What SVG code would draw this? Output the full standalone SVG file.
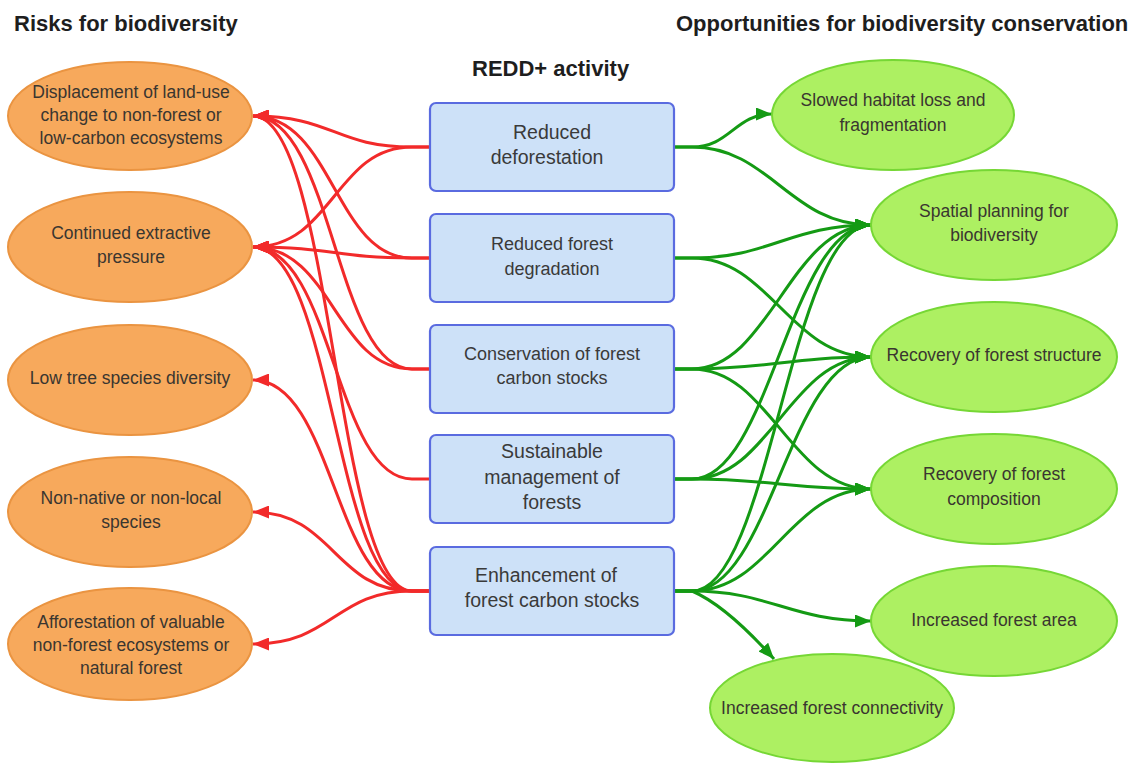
<svg xmlns="http://www.w3.org/2000/svg" width="1134" height="764" viewBox="0 0 1134 764">
<defs>
<style>
.title{font-family:"Liberation Sans",Arial,sans-serif;font-weight:bold;font-size:22px;fill:#1e1e1e}
.risk ellipse{fill:#f7a95c;stroke:#ea9441;stroke-width:2}
.opp ellipse{fill:#adf062;stroke:#76d735;stroke-width:2}
.act rect{fill:#cde1f8;stroke:#5a6be0;stroke-width:2.2}
.lbl{font-family:"Liberation Sans",Arial,sans-serif;font-size:17.5px;fill:#3a3630;text-anchor:middle}
.blbl{font-family:"Liberation Sans",Arial,sans-serif;font-size:18px;fill:#3a3a3a;text-anchor:middle}
.big{font-size:19.5px}
.red{fill:none;stroke:#f22a2a;stroke-width:3;marker-end:url(#ar)}
.grn{fill:none;stroke:#149a14;stroke-width:3;marker-end:url(#ag)}
</style>
<marker id="ar" markerUnits="userSpaceOnUse" markerWidth="17" markerHeight="13" refX="16" refY="6.5" orient="auto">
<path d="M0,0 L16,6.5 L0,13 z" fill="#f22a2a"/>
</marker>
<marker id="ag" markerUnits="userSpaceOnUse" markerWidth="17" markerHeight="13" refX="16" refY="6.5" orient="auto">
<path d="M0,0 L16,6.5 L0,13 z" fill="#149a14"/>
</marker>
</defs>
<rect width="1134" height="764" fill="#ffffff"/>

<text class="title" x="14" y="31">Risks for biodiversity</text>
<text class="title" x="472" y="76">REDD+ activity</text>
<text class="title" x="676" y="31">Opportunities for biodiversity conservation</text>

<g id="connectors">
<path class="red" d="M430,147 L412,147 C335,147 333,116 253,116"/>
<path class="red" d="M430,147 L412,147 C335,147 333,247 253,247"/>
<path class="red" d="M430,258 L412,258 C335,258 333,116 253,116"/>
<path class="red" d="M430,258 L412,258 C335,258 333,247 253,247"/>
<path class="red" d="M430,369 L412,369 C335,369 333,116 253,116"/>
<path class="red" d="M430,369 L412,369 C335,369 333,247 253,247"/>
<path class="red" d="M430,479 L412,479 C335,479 333,247 253,247"/>
<path class="red" d="M430,591 L412,591 C335,591 333,116 253,116"/>
<path class="red" d="M430,591 L412,591 C335,591 333,247 253,247"/>
<path class="red" d="M430,591 L412,591 C335,591 333,380 253,380"/>
<path class="red" d="M430,591 L412,591 C335,591 333,512 253,512"/>
<path class="red" d="M430,591 L412,591 C335,591 333,644 253,644"/>

<path class="grn" d="M674,147 L692,147 C730,147 735,114 772,114"/>
<path class="grn" d="M674,147 L692,147 C770,147 790,225 871,225"/>
<path class="grn" d="M674,258 L692,258 C770,258 790,225 871,225"/>
<path class="grn" d="M674,258 L692,258 C770,258 790,357 871,357"/>
<path class="grn" d="M674,369 L692,369 C770,369 790,225 871,225"/>
<path class="grn" d="M674,369 L692,369 C770,369 790,357 871,357"/>
<path class="grn" d="M674,369 L692,369 C770,369 790,489 871,489"/>
<path class="grn" d="M674,479 L692,479 C770,479 790,225 871,225"/>
<path class="grn" d="M674,479 L692,479 C770,479 790,357 871,357"/>
<path class="grn" d="M674,479 L692,479 C770,479 790,489 871,489"/>
<path class="grn" d="M674,591 L692,591 C770,591 790,225 871,225"/>
<path class="grn" d="M674,591 L692,591 C770,591 790,357 871,357"/>
<path class="grn" d="M674,591 L692,591 C770,591 790,489 871,489"/>
<path class="grn" d="M674,591 L692,591 C770,591 790,621 871,621"/>
<path class="grn" d="M674,591 L692,591 C720,603 748,630 774,659"/>
</g>

<g id="risk-displacement" class="risk">
<ellipse cx="130" cy="116" rx="122" ry="54"/>
<text class="lbl" x="131" y="98">Displacement of land-use</text>
<text class="lbl" x="131" y="121">change to non-forest or</text>
<text class="lbl" x="131" y="144">low-carbon ecosystems</text>
</g>
<g id="risk-extractive" class="risk">
<ellipse cx="130" cy="247" rx="122" ry="55"/>
<text class="lbl" x="131" y="239">Continued extractive</text>
<text class="lbl" x="131" y="263">pressure</text>
</g>
<g id="risk-lowdiversity" class="risk">
<ellipse cx="130" cy="380" rx="122" ry="55"/>
<text class="lbl" x="130" y="384">Low tree species diversity</text>
</g>
<g id="risk-nonnative" class="risk">
<ellipse cx="130" cy="512" rx="122" ry="55"/>
<text class="lbl" x="131" y="504">Non-native or non-local</text>
<text class="lbl" x="131" y="528">species</text>
</g>
<g id="risk-afforestation" class="risk">
<ellipse cx="130" cy="644" rx="122" ry="56"/>
<text class="lbl" x="131" y="628">Afforestation of valuable</text>
<text class="lbl" x="131" y="651">non-forest ecosystems or</text>
<text class="lbl" x="131" y="674">natural forest</text>
</g>

<g id="act-deforestation" class="act">
<rect x="430" y="103" width="244" height="88" rx="6"/>
<text class="blbl big" x="552" y="139">Reduced</text>
<text class="blbl big" x="547" y="164">deforestation</text>
</g>
<g id="act-degradation" class="act">
<rect x="430" y="214" width="244" height="88" rx="6"/>
<text class="blbl" x="552" y="250">Reduced forest</text>
<text class="blbl" x="552" y="275">degradation</text>
</g>
<g id="act-conservation" class="act">
<rect x="430" y="325" width="244" height="88" rx="6"/>
<text class="blbl" x="552" y="360">Conservation of forest</text>
<text class="blbl" x="552" y="384">carbon stocks</text>
</g>
<g id="act-sustainable" class="act">
<rect x="430" y="435" width="244" height="88" rx="6"/>
<text class="blbl big" x="552" y="458">Sustainable</text>
<text class="blbl big" x="552" y="484">management of</text>
<text class="blbl big" x="552" y="509">forests</text>
</g>
<g id="act-enhancement" class="act">
<rect x="430" y="547" width="244" height="88" rx="6"/>
<text class="blbl big" x="546" y="582">Enhancement of</text>
<text class="blbl big" x="552" y="607">forest carbon stocks</text>
</g>

<g id="opp-habitat" class="opp">
<ellipse cx="893" cy="115" rx="121" ry="55"/>
<text class="lbl" x="893" y="106">Slowed habitat loss and</text>
<text class="lbl" x="893" y="131">fragmentation</text>
</g>
<g id="opp-spatial" class="opp">
<ellipse cx="994" cy="225" rx="123" ry="55"/>
<text class="lbl" x="994" y="217">Spatial planning for</text>
<text class="lbl" x="994" y="241">biodiversity</text>
</g>
<g id="opp-structure" class="opp">
<ellipse cx="994" cy="357" rx="123" ry="55"/>
<text class="lbl" x="994" y="361">Recovery of forest structure</text>
</g>
<g id="opp-composition" class="opp">
<ellipse cx="994" cy="489" rx="123" ry="55"/>
<text class="lbl" x="994" y="480">Recovery of forest</text>
<text class="lbl" x="994" y="505">composition</text>
</g>
<g id="opp-area" class="opp">
<ellipse cx="994" cy="621" rx="123" ry="55"/>
<text class="lbl" x="994" y="626">Increased forest area</text>
</g>
<g id="opp-connectivity" class="opp">
<ellipse cx="832" cy="708" rx="122" ry="54"/>
<text class="lbl" x="832" y="714">Increased forest connectivity</text>
</g>
</svg>
